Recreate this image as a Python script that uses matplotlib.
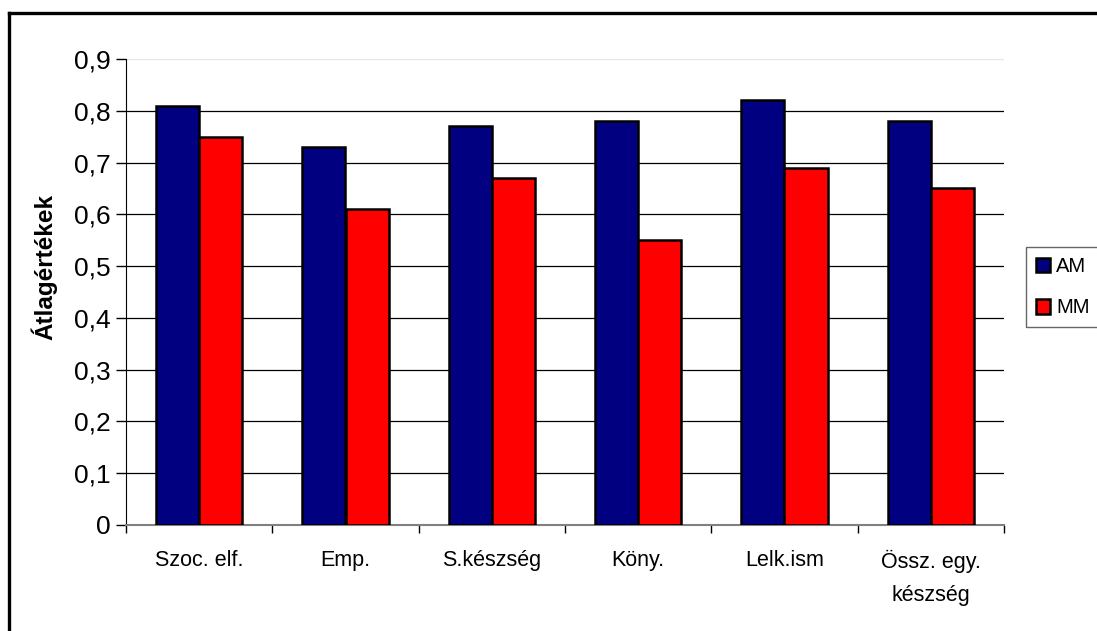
import numpy as np
import matplotlib
matplotlib.use("Agg")
import matplotlib.pyplot as plt
from matplotlib.lines import Line2D

plt.rcParams["font.family"] = ["Liberation Sans", "DejaVu Sans"]

categories = ["Szoc. elf.", "Emp.", "S.készség", "Köny.", "Lelk.ism", "Össz. egy.\nkészség"]
am_values = [0.81, 0.73, 0.77, 0.78, 0.82, 0.78]
mm_values = [0.75, 0.61, 0.67, 0.55, 0.69, 0.65]
series_names = ["AM", "MM"]
y_ticks = [0.0, 0.1, 0.2, 0.3, 0.4, 0.5, 0.6, 0.7, 0.8, 0.9]
y_tick_labels = ["0", "0,1", "0,2", "0,3", "0,4", "0,5", "0,6", "0,7", "0,8", "0,9"]
y_title = "Átlagértékek"

W, H = 1097, 631
fig = plt.figure(figsize=(W / 100, H / 100), dpi=100)
ax = fig.add_axes([126 / W, 1 - 525 / H, (1004 - 126) / W, (525 - 59) / H])

x = np.arange(len(categories))
bw = 0.296
ax.bar(x - bw / 2, am_values, bw, color="#000080", edgecolor="black", linewidth=1.8,
       label=series_names[0], zorder=3)
ax.bar(x + bw / 2, mm_values, bw, color="#ff0000", edgecolor="black", linewidth=1.8,
       label=series_names[1], zorder=3)

ax.set_xlim(-0.5, len(categories) - 0.5)
ax.set_ylim(0, 0.9)
ax.set_yticks(y_ticks)
ax.set_yticklabels(y_tick_labels, fontsize=19)
ax.set_xticks(x)
ax.set_xticklabels(categories, fontsize=15.5, linespacing=1.75)
ax.set_xticks(np.arange(len(categories) + 1) - 0.5, minor=True)
ax.tick_params(axis="x", which="major", length=0, pad=18)
ax.tick_params(axis="x", which="minor", length=6, width=1, color="black", direction="out")
ax.tick_params(axis="y", length=7, width=1, pad=4, direction="out")

ax.grid(axis="y", color="black", linewidth=0.9, zorder=0)
ax.yaxis.get_gridlines()[-1].set_color("#e6e6e6")
ax.set_axisbelow(True)

for side in ["top", "right"]:
    ax.spines[side].set_visible(False)
ax.spines["left"].set_color("black")
ax.spines["bottom"].set_color("#808080")
ax.spines["bottom"].set_linewidth(1.5)

fig.text(44 / W, 1 - 267 / H, y_title, rotation=90, fontsize=17.5, fontweight="bold",
         ha="center", va="center")

leg = fig.legend(loc="upper left", bbox_to_anchor=(1026 / W, 1 - 247 / H),
                 fontsize=14.5, frameon=True, fancybox=False, handlelength=0.7,
                 handleheight=0.75, handletextpad=0.3, labelspacing=1.1,
                 borderpad=0.5, borderaxespad=0)
leg.get_frame().set_edgecolor("#404040")
leg.get_frame().set_linewidth(1)

# outer chart frame (top and left edges visible)
fig.add_artist(Line2D([9 / W, 9 / W], [0, 1 - 13 / H], color="black", linewidth=2.4))
fig.add_artist(Line2D([9 / W, 1], [1 - 13 / H, 1 - 13 / H], color="black", linewidth=2.4))

fig.savefig("out.png", dpi=100)
